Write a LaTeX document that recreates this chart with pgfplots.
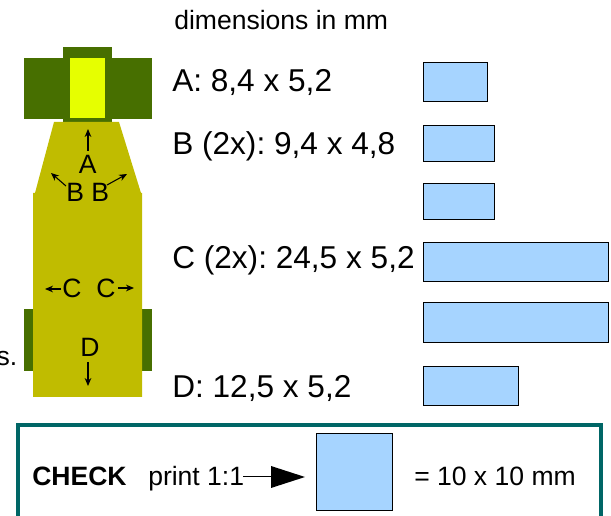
\documentclass[border=0pt]{standalone}
\usepackage{fontspec}
\setmainfont{Liberation Sans}
\usepackage{pgfplots}
\pgfplotsset{compat=1.18}
\usetikzlibrary{arrows.meta}
\definecolor{dkgreen}{HTML}{476F00}
\definecolor{lemon}{HTML}{E6FF00}
\definecolor{olive}{HTML}{C0BC00}
\definecolor{pale}{HTML}{A6D4FF}
\definecolor{boxteal}{HTML}{006666}
\newcommand{\largetxt}{\fontsize{23.7pt}{26pt}\selectfont\frenchspacing}
\newcommand{\smalltxt}{\fontsize{19.9pt}{22pt}\selectfont}
\begin{document}
\begin{tikzpicture}
\begin{axis}[
    scale only axis, width=458.25pt, height=387pt,
    xmin=0, xmax=611, ymin=0, ymax=516, y dir=reverse,
    axis lines=none,
    every axis plot/.append style={mark=none, line join=miter},
    nodes={inner sep=0pt, anchor=base west},
    ]
% part outline
\addplot[fill=dkgreen, draw=none] coordinates {(24,58) (152,58) (152,119) (24,119)} --cycle;
\addplot[fill=dkgreen, draw=none] coordinates {(63,47) (112,47) (112,122) (63,122)} --cycle;
\addplot[fill=lemon, draw=none] coordinates {(70,58) (105,58) (105,118) (70,118)} --cycle;
\addplot[fill=dkgreen, draw=none] coordinates {(24,309) (152,309) (152,371) (24,371)} --cycle;
\addplot[fill=olive, draw=none] coordinates {(54,122) (119,122) (141,193) (142,193) (142,397) (33,397) (33,193) (35,193)} --cycle;
% arrows
\addplot[-{Stealth[length=6pt,width=5pt]}, line width=0.8pt] coordinates {(88,151) (88,129)};
\addplot[-{Stealth[length=6pt,width=5pt]}, line width=0.8pt] coordinates {(66,186) (51,173)};
\addplot[-{Stealth[length=6pt,width=5pt]}, line width=0.8pt] coordinates {(107,185) (127,174)};
\addplot[-{Stealth[length=6pt,width=5pt]}, line width=0.8pt] coordinates {(61,289) (45,289)};
\addplot[-{Stealth[length=6pt,width=5pt]}, line width=0.8pt] coordinates {(118,288) (134,288)};
\addplot[-{Stealth[length=6pt,width=5pt]}, line width=0.8pt] coordinates {(88,362) (88,386)};
% strips
\addplot[fill=pale, draw=black, line width=0.75pt] coordinates {(423.3,62.5) (487,62.5) (487,101.5) (423.3,101.5)} --cycle;
\addplot[fill=pale, draw=black, line width=0.75pt] coordinates {(423.3,125.5) (494.7,125.5) (494.7,162) (423.3,162)} --cycle;
\addplot[fill=pale, draw=black, line width=0.75pt] coordinates {(423.3,183.5) (494.7,183.5) (494.7,219.5) (423.3,219.5)} --cycle;
\addplot[fill=pale, draw=black, line width=0.75pt] coordinates {(423.3,242.5) (608.5,242.5) (608.5,281.5) (423.3,281.5)} --cycle;
\addplot[fill=pale, draw=black, line width=0.75pt] coordinates {(423.3,302.5) (608.5,302.5) (608.5,342.5) (423.3,342.5)} --cycle;
\addplot[fill=pale, draw=black, line width=0.75pt] coordinates {(423.3,366.5) (518,366.5) (518,405.5) (423.3,405.5)} --cycle;
% check box
\addplot[draw=boxteal, line width=3pt] coordinates {(18,530) (18,425) (601,425) (601,530)};
\addplot[fill=pale, draw=black, line width=0.75pt] coordinates {(316.7,434) (392.7,434) (392.7,510.5) (316.7,510.5)} --cycle;
\addplot[black, line width=0.75pt] coordinates {(243,477) (272,477)};
\addplot[fill=black, draw=none] coordinates {(271,466) (305,477) (271,488)} --cycle;
% labels on the part
\node[font=\smalltxt] at (axis cs:78.5,174) {A};
\node[font=\smalltxt] at (axis cs:66,202) {B};
\node[font=\smalltxt] at (axis cs:91,202) {B};
\node[font=\smalltxt] at (axis cs:62,298) {C};
\node[font=\smalltxt] at (axis cs:96,298) {C};
\node[font=\smalltxt] at (axis cs:80,357) {D};
\node[font=\smalltxt] at (axis cs:-3.6,366) {s.};
% dimensions
\node[font=\smalltxt] at (axis cs:174,30) {dimensions in mm};
\node[font=\largetxt] at (axis cs:172,91.5) {A: 8,4 x 5,2};
\node[font=\largetxt] at (axis cs:172,154.5) {B (2x): 9,4 x 4,8};
\node[font=\largetxt] at (axis cs:172,268.5) {C (2x): 24,5 x 5,2};
\node[font=\largetxt] at (axis cs:172,397.5) {D: 12,5 x 5,2};
\node[font=\smalltxt\bfseries] at (axis cs:32,486) {CHECK};
\node[font=\smalltxt] at (axis cs:148,486) {print 1:1};
\node[font=\smalltxt] at (axis cs:414,486) {= 10 x 10 mm};
\end{axis}
\pgfresetboundingbox
\path[use as bounding box] (current axis.south west) rectangle (current axis.north east);
\end{tikzpicture}
\end{document}
